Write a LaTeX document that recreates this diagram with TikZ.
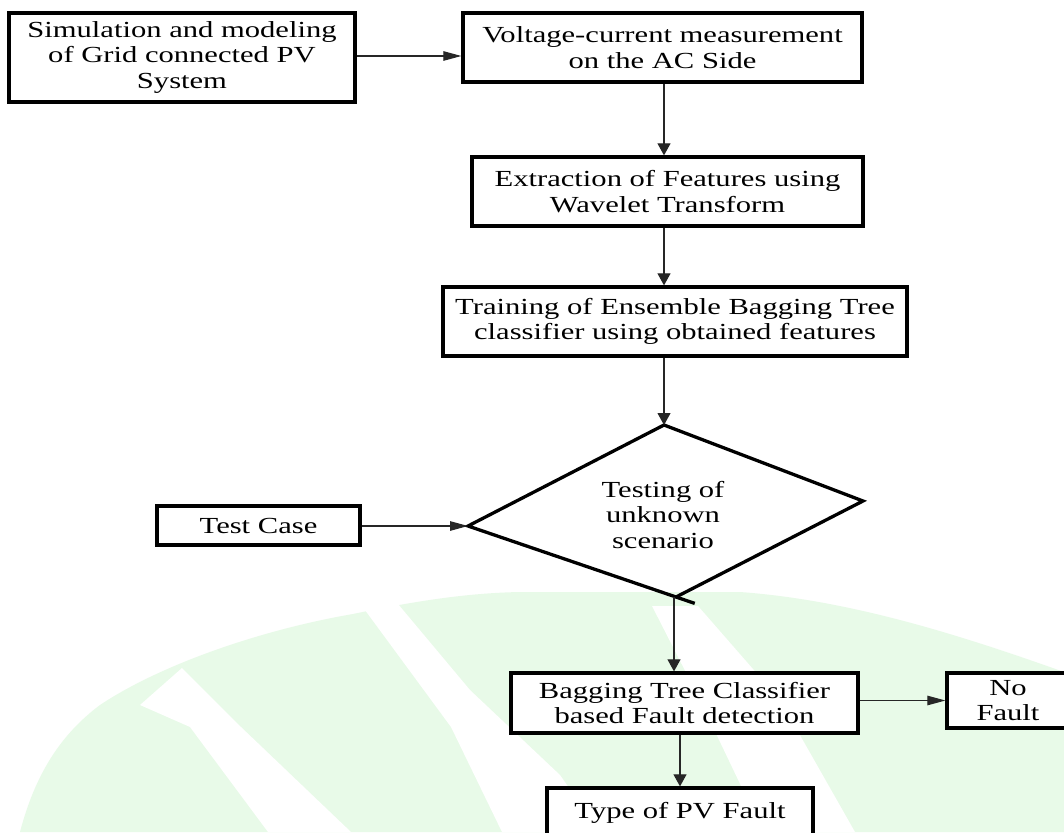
\documentclass[tikz,border=0pt]{standalone}
\usepackage{fontspec}
\setmainfont{Liberation Serif}[FakeStretch=1.33]
\usetikzlibrary{arrows.meta,calc}
\definecolor{wm}{RGB}{232,250,232}
\tikzset{
  txt/.style={font=\fontsize{23}{25.7}\selectfont},
  box/.style={txt, draw, line width=3.3pt, fill=white, align=center, inner sep=0pt},
  lbl/.style={txt, align=center, inner sep=0pt},
  conn/.style={line width=1.1pt, draw=black!85},
  harrow/.style={conn, -{Triangle[length=18pt,width=9.5pt]}},
  varrow/.style={conn, -{Triangle[length=12pt,width=13pt]}},
  dia/.style={line width=3.3pt, line join=miter}
}
\begin{document}
\begin{tikzpicture}[x=1pt,y=-1pt]
\useasboundingbox (0,0) rectangle (1064,832);
\clip (0,0) rectangle (1064,832);
\fill[white] (0,0) rectangle (1064,832);
% watermark
\fill[wm] (20,832) .. controls (35,775) and (60,735) .. (100,705)
  .. controls (160,665) and (260,630) .. (353,614)
  .. controls (420,600) and (470,593) .. (520,592) -- (740,592)
  .. controls (850,600) and (960,635) .. (1064,672) -- (1064,832) -- cycle;
\fill[white] (140,705) -- (182,668) -- (241,727) -- (351,832) -- (268,832) -- (190,727) -- cycle;
\fill[white] (362,606) -- (398,604) -- (470,690) -- (560,775) -- (600,832) -- (502,832) -- (451,727) -- cycle;
\fill[white] (652,606) -- (698,606) -- (780,700) -- (855,832) -- (763,832) -- (700,700) -- cycle;
% nodes
\node[box, minimum width=346pt, minimum height=89pt] (sim) at (182,57.5)
  {Simulation and modeling\\of Grid connected PV\\System};
\node[box, minimum width=399pt, minimum height=69pt] (meas) at (662.5,47.5)
  {Voltage-current measurement\\on the AC Side};
\node[box, minimum width=391pt, minimum height=69pt] (feat) at (667.5,191.5)
  {Extraction of Features using\\Wavelet Transform};
\node[box, minimum width=464pt, minimum height=69pt] (train) at (675,321.5)
  {Training of Ensemble Bagging Tree\\classifier using obtained features};
\node[box, minimum width=203pt, minimum height=39pt] (test) at (258.5,525.5) {Test Case};
\coordinate (dT) at (664,425);
\coordinate (dL) at (468,526);
\coordinate (dR) at (863,501);
\coordinate (dB) at (676,597);
\coordinate (dTail) at ($(dL)!1.09!(dB)$);
\draw[dia] (dT) -- (dR) -- (dB) -- (dL) -- cycle;
\draw[dia] (dB) -- (dTail);
\node[lbl] (dtext) at (663,515) {Testing of\\unknown\\scenario};
\node[box, minimum width=347pt, minimum height=60pt] (bag) at (684.5,703)
  {Bagging Tree Classifier\\based Fault detection};
\node[box, minimum width=122pt, minimum height=55pt] (nof) at (1008,700.5) {No\\Fault};
\node[box, minimum width=266pt, minimum height=50pt] (type) at (680,813) {Type of PV Fault};
% connectors
\draw[harrow] (sim.east |- 0,56) -- (meas.west |- 0,56);
\draw[varrow] (meas.south -| 664,0) -- (feat.north -| 664,0);
\draw[varrow] (feat.south -| 664,0) -- (train.north -| 664,0);
\draw[varrow] (train.south -| dT) -- (dT);
\draw[harrow] (test.east |- dL) -- (dL);
\draw[varrow] (dB -| 674,0) -- (bag.north -| 674,0);
\draw[harrow] (bag.east |- nof.west) -- (nof.west);
\draw[varrow] (type.north |- bag.south) -- (type.north);
\end{tikzpicture}
\end{document}
